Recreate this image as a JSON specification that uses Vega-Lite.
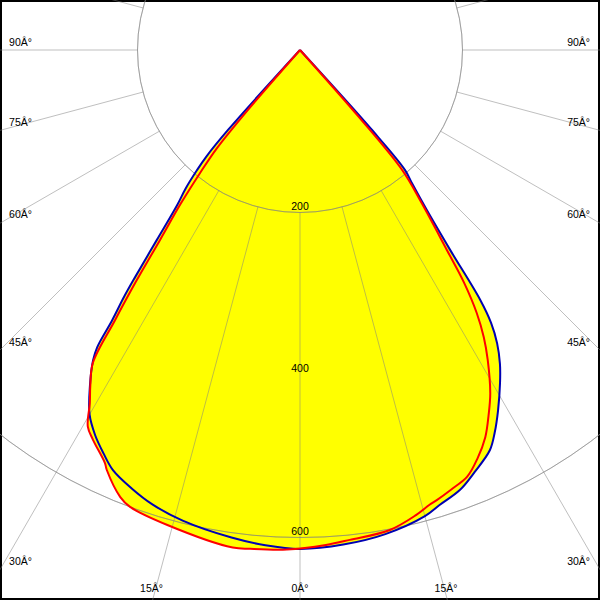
{
  "$schema": "https://vega.github.io/schema/vega-lite/v6.json",
  "width": 600,
  "height": 600,
  "autosize": {"type": "fit", "contains": "padding"},
  "padding": 0,
  "background": "white",
  "config": {"view": {"stroke": "black", "strokeWidth": 4}, "axis": {"disable": true}},
  "datasets": {
    "curves": [
      {"plane": "C90-C270", "angle": -43, "cd": 0},
      {"plane": "C90-C270", "angle": -42, "cd": 132},
      {"plane": "C90-C270", "angle": -41.3, "cd": 175},
      {"plane": "C90-C270", "angle": -40.6, "cd": 195},
      {"plane": "C90-C270", "angle": -39.5, "cd": 222},
      {"plane": "C90-C270", "angle": -38.4, "cd": 243},
      {"plane": "C90-C270", "angle": -37, "cd": 293},
      {"plane": "C90-C270", "angle": -36, "cd": 344},
      {"plane": "C90-C270", "angle": -35.5, "cd": 372},
      {"plane": "C90-C270", "angle": -34.8, "cd": 405},
      {"plane": "C90-C270", "angle": -34.3, "cd": 443},
      {"plane": "C90-C270", "angle": -33.7, "cd": 459},
      {"plane": "C90-C270", "angle": -32, "cd": 488},
      {"plane": "C90-C270", "angle": -30, "cd": 518},
      {"plane": "C90-C270", "angle": -28, "cd": 537},
      {"plane": "C90-C270", "angle": -26, "cd": 552},
      {"plane": "C90-C270", "angle": -24, "cd": 566},
      {"plane": "C90-C270", "angle": -21, "cd": 578},
      {"plane": "C90-C270", "angle": -18, "cd": 588},
      {"plane": "C90-C270", "angle": -14, "cd": 597},
      {"plane": "C90-C270", "angle": -8, "cd": 606},
      {"plane": "C90-C270", "angle": -4, "cd": 611},
      {"plane": "C90-C270", "angle": 0, "cd": 614},
      {"plane": "C90-C270", "angle": 5, "cd": 611},
      {"plane": "C90-C270", "angle": 10, "cd": 605},
      {"plane": "C90-C270", "angle": 15, "cd": 594},
      {"plane": "C90-C270", "angle": 17, "cd": 586},
      {"plane": "C90-C270", "angle": 20, "cd": 576},
      {"plane": "C90-C270", "angle": 22.5, "cd": 562},
      {"plane": "C90-C270", "angle": 25.4, "cd": 545},
      {"plane": "C90-C270", "angle": 27, "cd": 528},
      {"plane": "C90-C270", "angle": 28.8, "cd": 506},
      {"plane": "C90-C270", "angle": 31, "cd": 478},
      {"plane": "C90-C270", "angle": 32.5, "cd": 458},
      {"plane": "C90-C270", "angle": 33.9, "cd": 435},
      {"plane": "C90-C270", "angle": 35, "cd": 410},
      {"plane": "C90-C270", "angle": 35.8, "cd": 379},
      {"plane": "C90-C270", "angle": 36.9, "cd": 308},
      {"plane": "C90-C270", "angle": 38.4, "cd": 251},
      {"plane": "C90-C270", "angle": 40, "cd": 215},
      {"plane": "C90-C270", "angle": 41.2, "cd": 196},
      {"plane": "C90-C270", "angle": 42, "cd": 130},
      {"plane": "C90-C270", "angle": 43, "cd": 0},
      {"plane": "C0-C180", "angle": -42, "cd": 0},
      {"plane": "C0-C180", "angle": -41, "cd": 100},
      {"plane": "C0-C180", "angle": -40.2, "cd": 160},
      {"plane": "C0-C180", "angle": -39.1, "cd": 195},
      {"plane": "C0-C180", "angle": -37.8, "cd": 240},
      {"plane": "C0-C180", "angle": -36.4, "cd": 290},
      {"plane": "C0-C180", "angle": -35.3, "cd": 350},
      {"plane": "C0-C180", "angle": -34.4, "cd": 403},
      {"plane": "C0-C180", "angle": -33.5, "cd": 462},
      {"plane": "C0-C180", "angle": -32, "cd": 487},
      {"plane": "C0-C180", "angle": -30.75, "cd": 506},
      {"plane": "C0-C180", "angle": -29.4, "cd": 532},
      {"plane": "C0-C180", "angle": -28, "cd": 543},
      {"plane": "C0-C180", "angle": -25.3, "cd": 562},
      {"plane": "C0-C180", "angle": -24.7, "cd": 569},
      {"plane": "C0-C180", "angle": -21.9, "cd": 593},
      {"plane": "C0-C180", "angle": -20.4, "cd": 600},
      {"plane": "C0-C180", "angle": -15.6, "cd": 607},
      {"plane": "C0-C180", "angle": -7.7, "cd": 618},
      {"plane": "C0-C180", "angle": -5.7, "cd": 617},
      {"plane": "C0-C180", "angle": -1.5, "cd": 615},
      {"plane": "C0-C180", "angle": 3, "cd": 610},
      {"plane": "C0-C180", "angle": 5.8, "cd": 606},
      {"plane": "C0-C180", "angle": 10.6, "cd": 601},
      {"plane": "C0-C180", "angle": 14, "cd": 590},
      {"plane": "C0-C180", "angle": 15.9, "cd": 582},
      {"plane": "C0-C180", "angle": 16.9, "cd": 579},
      {"plane": "C0-C180", "angle": 19, "cd": 572},
      {"plane": "C0-C180", "angle": 21.4, "cd": 564},
      {"plane": "C0-C180", "angle": 23.5, "cd": 548},
      {"plane": "C0-C180", "angle": 25.6, "cd": 528},
      {"plane": "C0-C180", "angle": 27.3, "cd": 506},
      {"plane": "C0-C180", "angle": 29, "cd": 483},
      {"plane": "C0-C180", "angle": 31.2, "cd": 446},
      {"plane": "C0-C180", "angle": 32.6, "cd": 420},
      {"plane": "C0-C180", "angle": 33.9, "cd": 390},
      {"plane": "C0-C180", "angle": 35.2, "cd": 350},
      {"plane": "C0-C180", "angle": 36.3, "cd": 305},
      {"plane": "C0-C180", "angle": 38.5, "cd": 240},
      {"plane": "C0-C180", "angle": 40.4, "cd": 194},
      {"plane": "C0-C180", "angle": 41.3, "cd": 110},
      {"plane": "C0-C180", "angle": 42, "cd": 0}
    ],
    "circles": [{"r": 200}, {"r": 400}, {"r": 600}],
    "spokes": [
      {"angle": -165}, {"angle": -150}, {"angle": -135}, {"angle": -120}, {"angle": -105},
      {"angle": -90}, {"angle": -75}, {"angle": -60}, {"angle": -45}, {"angle": -30}, {"angle": -15},
      {"angle": 0}, {"angle": 15}, {"angle": 30}, {"angle": 45}, {"angle": 60}, {"angle": 75},
      {"angle": 90}, {"angle": 105}, {"angle": 120}, {"angle": 135}, {"angle": 150}, {"angle": 165}, {"angle": 180}
    ],
    "labels": [
      {"label": "90Â°", "side": "left", "x": -358, "y": 4.9},
      {"label": "75Â°", "side": "left", "x": -358, "y": -93.5},
      {"label": "60Â°", "side": "left", "x": -358, "y": -206.8},
      {"label": "45Â°", "side": "left", "x": -358, "y": -364.3},
      {"label": "30Â°", "side": "left", "x": -358, "y": -633.8},
      {"label": "90Â°", "side": "right", "x": 357, "y": 4.9},
      {"label": "75Â°", "side": "right", "x": 357, "y": -93.5},
      {"label": "60Â°", "side": "right", "x": 357, "y": -206.8},
      {"label": "45Â°", "side": "right", "x": 357, "y": -364.3},
      {"label": "30Â°", "side": "right", "x": 357, "y": -633.8},
      {"label": "15Â°", "side": "bottom", "x": -182.8, "y": -667.1},
      {"label": "0Â°", "side": "bottom", "x": 0, "y": -667.1},
      {"label": "15Â°", "side": "bottom", "x": 179.7, "y": -667.1}
    ]
  },
  "layer": [
    {
      "data": {"name": "curves"},
      "transform": [
        {"calculate": "datum.cd * sin(datum.angle * PI / 180)", "as": "px"},
        {"calculate": "-datum.cd * cos(datum.angle * PI / 180)", "as": "py"}
      ],
      "mark": {"type": "line", "fill": "#ffff00", "strokeWidth": 0, "interpolate": "catmull-rom", "clip": true},
      "encoding": {
        "x": {"field": "px", "type": "quantitative", "axis": null, "scale": {"domain": [-369.23, 369.23], "nice": false, "zero": false}},
        "y": {"field": "py", "type": "quantitative", "axis": null, "scale": {"domain": [-676.92, 61.54], "nice": false, "zero": false}},
        "detail": {"field": "plane"},
        "order": {"field": "angle", "type": "quantitative"}
      }
    },
    {
      "data": {"name": "circles"},
      "mark": {"type": "arc", "filled": false, "stroke": "#808080", "strokeOpacity": 0.5, "strokeWidth": 1, "theta": 0, "theta2": 6.2832, "clip": true},
      "encoding": {
        "x": {"datum": 0, "type": "quantitative"},
        "y": {"datum": 0, "type": "quantitative"},
        "radius": {"field": "r", "type": "quantitative", "scale": {"type": "linear", "domain": [0, 600], "range": [0, 487.5], "zero": true}}
      }
    },
    {
      "data": {"name": "spokes"},
      "transform": [
        {"calculate": "200 * sin(datum.angle * PI / 180)", "as": "x1"},
        {"calculate": "-200 * cos(datum.angle * PI / 180)", "as": "y1"},
        {"calculate": "1500 * sin(datum.angle * PI / 180)", "as": "x2"},
        {"calculate": "-1500 * cos(datum.angle * PI / 180)", "as": "y2"}
      ],
      "mark": {"type": "rule", "stroke": "#808080", "strokeOpacity": 0.5, "strokeWidth": 1, "clip": true},
      "encoding": {
        "x": {"field": "x1", "type": "quantitative"},
        "y": {"field": "y1", "type": "quantitative"},
        "x2": {"field": "x2"},
        "y2": {"field": "y2"}
      }
    },
    {
      "data": {"name": "curves"},
      "transform": [
        {"calculate": "datum.cd * sin(datum.angle * PI / 180)", "as": "px"},
        {"calculate": "-datum.cd * cos(datum.angle * PI / 180)", "as": "py"}
      ],
      "mark": {"type": "line", "strokeWidth": 2, "interpolate": "catmull-rom", "clip": true},
      "encoding": {
        "x": {"field": "px", "type": "quantitative"},
        "y": {"field": "py", "type": "quantitative"},
        "color": {"field": "plane", "type": "nominal", "legend": null, "scale": {"domain": ["C0-C180", "C90-C270"], "range": ["#ff0000", "#0000b4"]}},
        "order": {"field": "angle", "type": "quantitative"}
      }
    },
    {
      "data": {"name": "circles"},
      "mark": {"type": "text", "font": "Liberation Sans", "fontSize": 10.5, "align": "center", "baseline": "alphabetic", "dy": -3, "color": "black"},
      "encoding": {
        "x": {"datum": 0, "type": "quantitative"},
        "y": {"field": "negr", "type": "quantitative"},
        "text": {"field": "r", "type": "nominal"}
      },
      "transform": [{"calculate": "-datum.r", "as": "negr"}]
    },
    {
      "data": {"name": "labels"},
      "transform": [{"filter": "datum.side == 'left'"}],
      "mark": {"type": "text", "font": "Liberation Sans", "fontSize": 10.5, "align": "left", "baseline": "alphabetic", "color": "black"},
      "encoding": {
        "x": {"field": "x", "type": "quantitative"},
        "y": {"field": "y", "type": "quantitative"},
        "text": {"field": "label", "type": "nominal"}
      }
    },
    {
      "data": {"name": "labels"},
      "transform": [{"filter": "datum.side == 'right'"}],
      "mark": {"type": "text", "font": "Liberation Sans", "fontSize": 10.5, "align": "right", "baseline": "alphabetic", "color": "black"},
      "encoding": {
        "x": {"field": "x", "type": "quantitative"},
        "y": {"field": "y", "type": "quantitative"},
        "text": {"field": "label", "type": "nominal"}
      }
    },
    {
      "data": {"name": "labels"},
      "transform": [{"filter": "datum.side == 'bottom'"}],
      "mark": {"type": "text", "font": "Liberation Sans", "fontSize": 10.5, "align": "center", "baseline": "alphabetic", "color": "black"},
      "encoding": {
        "x": {"field": "x", "type": "quantitative"},
        "y": {"field": "y", "type": "quantitative"},
        "text": {"field": "label", "type": "nominal"}
      }
    }
  ]
}
